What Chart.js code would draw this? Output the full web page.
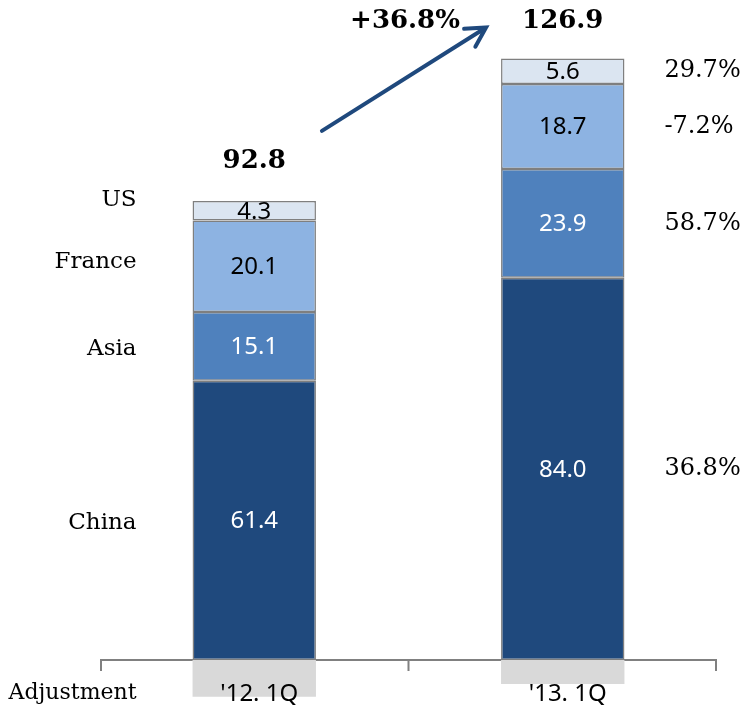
<!DOCTYPE html>
<html>
<head>
<meta charset="utf-8">
<script src="https://cdn.jsdelivr.net/npm/chart.js@4/dist/chart.umd.min.js"></script>
<style>
  html, body { margin: 0; padding: 0; background: #fff; }
  #wrap { width: 749px; height: 712px; position: relative; }
</style>
</head>
<body>
<div id="wrap"><canvas id="chartsales"></canvas></div>
<script>
// values
const periods = ["'12. 1Q", "'13. 1Q"]
const regions = ['Adjustment', 'China', 'Asia', 'France', 'US']
const adjustment = [-8.1, -5.3]
const china = [61.4, 84.0]
const asia = [15.1, 23.9]
const france = [20.1, 18.7]
const us = [4.3, 5.6]
const totals = [92.8, 126.9]
const growth = ['36.8%', '58.7%', '-7.2%', '29.7%'] // china, asia, france, us
const growthTotal = '+36.8%'

const colors = ['#d9d9d9', '#1f497d', '#4f81bd', '#8db3e2', '#dbe5f1']
const labelColors = [null, '#fff', '#fff', '#000', '#000']
const serif = '"DejaVu Serif", Georgia, serif'
const sans = '"Noto Sans", "Open Sans", sans-serif'

const series = [adjustment, china, asia, france, us]
const datasets = series.map((s, i) => ({
    label: regions[i],
    data: s,
    backgroundColor: colors[i],
    borderColor: '#7f7f7f',
    borderWidth: i === 0 ? 0 : 1.5,
    borderSkipped: false,
    barPercentage: 0.4,
    categoryPercentage: 1.0
}))

const decorations = {
    id: 'decorations',
    beforeDatasetsDraw(chart) {
        const ctx = chart.ctx
        const area = chart.chartArea
        const y0 = chart.scales.y.getPixelForValue(0)
        ctx.save()
        ctx.strokeStyle = '#808080'
        ctx.lineWidth = 2
        ctx.beginPath()
        ctx.moveTo(area.left, y0)
        ctx.lineTo(area.right, y0)
        const mid = (area.left + area.right) / 2
        for (const x of [area.left + 1, mid, area.right - 1]) {
            ctx.moveTo(x, y0)
            ctx.lineTo(x, y0 + 11)
        }
        ctx.stroke()
        ctx.restore()
    },
    afterDatasetsDraw(chart) {
        const ctx = chart.ctx
        const y0 = chart.scales.y.getPixelForValue(0)
        ctx.save()
        ctx.textBaseline = 'middle'

        // segment values
        ctx.font = '24px ' + sans
        ctx.textAlign = 'center'
        for (let d = 1; d < series.length; d++) {
            chart.getDatasetMeta(d).data.forEach((bar, i) => {
                ctx.fillStyle = labelColors[d]
                ctx.fillText(series[d][i].toFixed(1), bar.x, (bar.y + bar.base) / 2 + 1)
            })
        }

        // category labels
        chart.getDatasetMeta(0).data.forEach((bar, i) => {
            ctx.fillStyle = '#000'
            ctx.fillText(periods[i], bar.x + 5, y0 + 34)
        })

        // region names left of first bar
        const first = chart.getDatasetMeta(1).data[0]
        const leftX = first.x - first.width / 2 - 56
        ctx.font = '23px ' + serif
        ctx.textAlign = 'right'
        ctx.fillStyle = '#000'
        for (let d = 1; d < series.length; d++) {
            const bar = chart.getDatasetMeta(d).data[0]
            const off = d === 4 ? -11 : (d === 3 ? -4 : 3)
            ctx.fillText(regions[d], leftX, (bar.y + bar.base) / 2 + off)
        }
        ctx.font = '22px ' + serif
        ctx.fillText(regions[0], leftX, y0 + 33)

        // growth right of second bar
        const second = chart.getDatasetMeta(1).data[1]
        const rightX = second.x + second.width / 2 + 40
        ctx.font = '24px ' + serif
        ctx.textAlign = 'left'
        for (let d = 1; d < series.length; d++) {
            const bar = chart.getDatasetMeta(d).data[1]
            ctx.fillText(growth[d - 1], rightX, (bar.y + bar.base) / 2)
        }

        // totals
        ctx.font = 'bold 26px ' + serif
        ctx.textAlign = 'center'
        const tops = chart.getDatasetMeta(4).data
        tops.forEach((bar, i) => {
            ctx.fillText(totals[i].toFixed(1), bar.x, bar.y - (i === 0 ? 40 : 37))
        })

        // growth arrow
        const a = tops[0], b = tops[1]
        const sx = a.x + a.width / 2 + 6, sy = a.y - 70
        const ex = b.x - b.width / 2 - 15, ey = b.y - 31
        ctx.strokeStyle = '#1f497d'
        ctx.lineWidth = 4
        ctx.lineCap = 'round'
        ctx.beginPath()
        ctx.moveTo(sx, sy)
        ctx.lineTo(ex, ey)
        const ang = Math.atan2(ey - sy, ex - sx)
        ctx.moveTo(ex - 22 * Math.cos(ang - 0.5), ey - 22 * Math.sin(ang - 0.5))
        ctx.lineTo(ex, ey)
        ctx.lineTo(ex - 22 * Math.cos(ang + 0.5), ey - 22 * Math.sin(ang + 0.5))
        ctx.stroke()
        ctx.fillText(growthTotal, (sx + ex) / 2 + 1, ey - 6)
        ctx.restore()
    }
}

const ctx = document.getElementById('chartsales')
new Chart(ctx, {
    type: 'bar',
    data: { labels: periods, datasets: datasets },
    options: {
        animation: false,
        responsive: true,
        maintainAspectRatio: false,
        layout: { padding: { left: 100, right: 32, top: 23, bottom: 6.5 } },
        plugins: { legend: { display: false }, tooltip: { enabled: false } },
        scales: {
            x: { stacked: true, display: false },
            y: { stacked: true, display: false, min: -10, max: 140 }
        }
    },
    plugins: [decorations]
})
</script>
</body>
</html>
